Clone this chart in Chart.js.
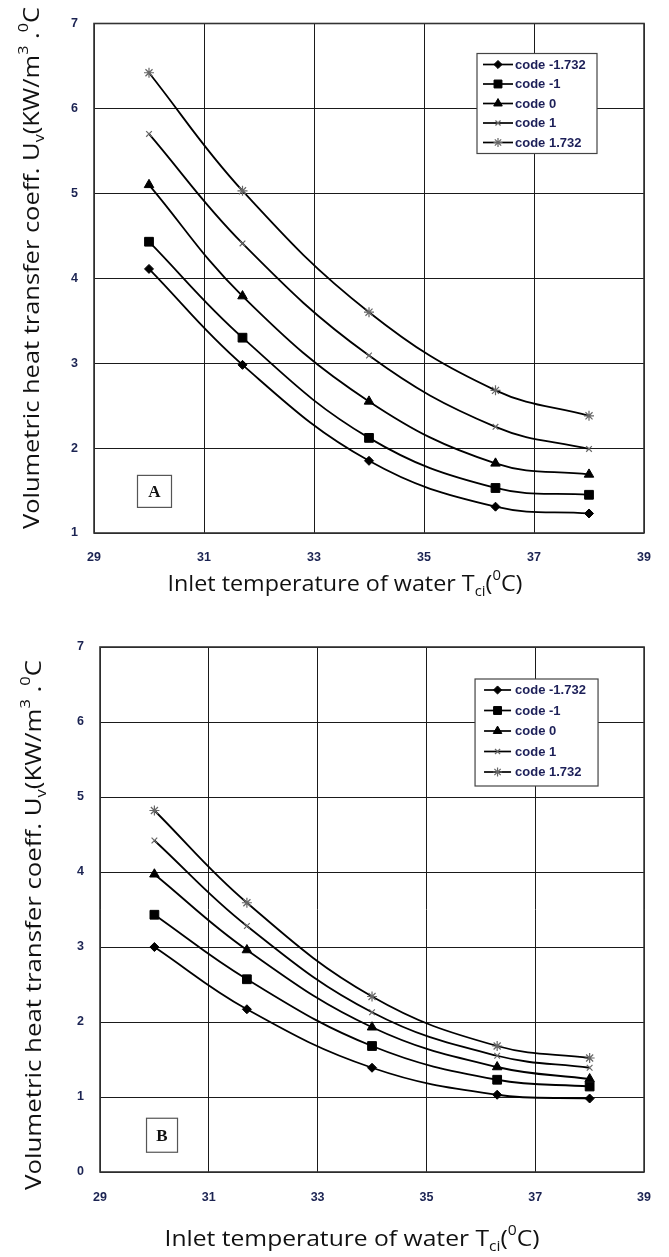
<!DOCTYPE html>
<html>
<head>
<meta charset="utf-8">
<script src="https://cdn.jsdelivr.net/npm/chart.js@4.4.0/dist/chart.umd.min.js"></script>
<style>
  html, body { margin: 0; padding: 0; background: #fff; }
  .panel { position: absolute; left: 0; width: 669px; }
  canvas { display: block; }
</style>
</head>
<body>
<div class="panel" style="top:0;height:615px"><canvas id="chartA" width="669" height="615"></canvas></div>
<div class="panel" style="top:615px;height:642px"><canvas id="chartB" width="669" height="642"></canvas></div>
<script>
// Inlet water temperature levels (°C) of the design
const inletTemp = [30, 31.7, 34, 36.3, 38];
const seriesNames = ['code -1.732', 'code -1', 'code 0', 'code 1', 'code 1.732'];

// Panel A: volumetric heat transfer coefficient Uv (kW/m3.°C)
const uvA_m1732 = [4.11, 2.98, 1.85, 1.31, 1.23];
const uvA_m1    = [4.43, 3.30, 2.12, 1.53, 1.45];
const uvA_0     = [5.10, 3.79, 2.55, 1.82, 1.69];
const uvA_p1    = [5.70, 4.41, 3.09, 2.25, 1.99];
const uvA_p1732 = [6.42, 5.03, 3.60, 2.68, 2.38];

// Panel B
const uvB_m1732 = [3.00, 2.17, 1.39, 1.03, 0.98];
const uvB_m1    = [3.43, 2.57, 1.68, 1.23, 1.14];
const uvB_0     = [3.97, 2.96, 1.93, 1.40, 1.24];
const uvB_p1    = [4.42, 3.28, 2.13, 1.55, 1.39];
const uvB_p1732 = [4.82, 3.59, 2.34, 1.68, 1.52];

// Axis ticks
const xTicks  = [29, 31, 33, 35, 37, 39];
const yTicksA = [1, 2, 3, 4, 5, 6, 7];
const yTicksB = [0, 1, 2, 3, 4, 5, 6, 7];

const markers = [
  { style: 'rectRot',  r: 4.5, fill: '#000', stroke: '#000', bw: 1 },
  { style: 'rect',     r: 6.2, fill: '#000', stroke: '#000', bw: 1 },
  { style: 'triangle', r: 5.5, fill: '#000', stroke: '#000', bw: 1 },
  { style: 'crossRot', r: 4,   fill: '#666', stroke: '#666', bw: 1.2 },
  { style: 'star',     r: 5,   fill: '#666', stroke: '#666', bw: 1.2 }
];

const tickColor = '#1b2352';
const legendColor = '#1c1f58';

function makeDatasets(seriesList) {
  return seriesList.map((vals, i) => ({
    label: seriesNames[i],
    data: inletTemp.map((t, k) => ({ x: t, y: vals[k] })),
    borderColor: '#000',
    borderWidth: 1.8,
    tension: 0.4,
    fill: false,
    pointStyle: markers[i].style,
    pointRadius: markers[i].r,
    pointBackgroundColor: markers[i].fill,
    pointBorderColor: markers[i].stroke,
    pointBorderWidth: markers[i].bw
  }));
}

// Draws a run of text pieces with sub/superscripts, centred on (cx, cy)
function drawRich(ctx, parts, cx, cy, size, family, targetLen, angle) {
  const small = Math.round(size * 0.62);
  let total = 0;
  const widths = parts.map(p => {
    ctx.font = (p.k ? small : size) + 'px ' + family;
    const w = ctx.measureText(p.t).width;
    total += w;
    return w;
  });
  const sx = targetLen ? targetLen / total : 1;
  ctx.save();
  ctx.translate(cx, cy);
  ctx.rotate(angle || 0);
  ctx.scale(sx, 1);
  ctx.fillStyle = '#111';
  ctx.textBaseline = 'alphabetic';
  ctx.textAlign = 'left';
  let x = -total / 2;
  const base = size * 0.36;
  parts.forEach((p, i) => {
    ctx.font = (p.k ? small : size) + 'px ' + family;
    let dy = base;
    if (p.k === 'sub') dy = base + size * 0.22;
    if (p.k === 'sup') dy = base - size * 0.48;
    ctx.fillText(p.t, x, dy);
    x += widths[i];
  });
  ctx.restore();
}

const yTitleParts = [
  { t: 'Volumetric heat transfer coeff. U' }, { t: 'v', k: 'sub' },
  { t: '(KW/m' }, { t: '3', k: 'sup' }, { t: ' .' }, { t: '0', k: 'sup' }, { t: 'C' }
];
const xTitleParts = [
  { t: 'Inlet temperature of water T' }, { t: 'ci', k: 'sub' },
  { t: '(' }, { t: '0', k: 'sup' }, { t: 'C)' }
];

const frameAndDecor = {
  id: 'frameAndDecor',
  afterDatasetsDraw(chart, args, o) {
    const ctx = chart.ctx;
    const ca = chart.chartArea;
    const xs = chart.scales.x, ys = chart.scales.y;

    // plot frame
    ctx.save();
    ctx.strokeStyle = '#333';
    ctx.lineWidth = 1.6;
    ctx.strokeRect(ca.left, ca.top, ca.right - ca.left, ca.bottom - ca.top);
    ctx.restore();

    // legend box
    const lg = o.legend;
    const bx = ca.right + lg.dx, by = ca.top + lg.dy;
    ctx.save();
    ctx.fillStyle = '#fff';
    ctx.fillRect(bx, by, lg.w, lg.h);
    ctx.strokeStyle = '#444';
    ctx.lineWidth = 1.2;
    ctx.strokeRect(bx, by, lg.w, lg.h);
    chart.data.datasets.forEach((ds, i) => {
      const ry = by + lg.first + i * lg.step;
      ctx.strokeStyle = '#000';
      ctx.lineWidth = 1.7;
      ctx.beginPath();
      ctx.moveTo(bx + lg.lineX0, ry);
      ctx.lineTo(bx + lg.lineX1, ry);
      ctx.stroke();
      ctx.fillStyle = ds.pointBackgroundColor;
      ctx.strokeStyle = ds.pointBorderColor;
      ctx.lineWidth = ds.pointBorderWidth;
      Chart.helpers.drawPoint(ctx, { pointStyle: ds.pointStyle, radius: ds.pointRadius * 0.9, rotation: 0, borderWidth: ds.pointBorderWidth },
        bx + (lg.lineX0 + lg.lineX1) / 2, ry);
      ctx.fillStyle = legendColor;
      ctx.font = lg.font;
      ctx.textBaseline = 'middle';
      ctx.textAlign = 'left';
      ctx.fillText(ds.label, bx + lg.textX, ry + 0.5);
    });
    ctx.restore();

    // panel letter in a small box, anchored on the data scales
    const pl = o.panel;
    const pcx = xs.getPixelForValue(pl.x), pcy = ys.getPixelForValue(pl.y);
    ctx.save();
    ctx.fillStyle = '#fff';
    ctx.fillRect(pcx - pl.w / 2, pcy - pl.h / 2, pl.w, pl.h);
    ctx.strokeStyle = '#555';
    ctx.lineWidth = 1.2;
    ctx.strokeRect(pcx - pl.w / 2, pcy - pl.h / 2, pl.w, pl.h);
    ctx.fillStyle = '#111';
    ctx.font = 'bold 17px "Liberation Serif", "DejaVu Serif", serif';
    ctx.textAlign = 'center';
    ctx.textBaseline = 'middle';
    ctx.fillText(pl.text, pcx, pcy + 1);
    ctx.restore();

    // axis titles
    const fam = '"Open Sans", "Liberation Sans", sans-serif';
    drawRich(ctx, xTitleParts, o.xTitle.x, o.xTitle.y, 22, fam, o.xTitle.len, 0);
    drawRich(ctx, yTitleParts, o.yTitle.x, o.yTitle.y, 22, fam, o.yTitle.len, -Math.PI / 2);
  }
};

function buildChart(id, seriesList, yTicks, geom, decor) {
  const tickFont = { family: '"Liberation Sans", Arial, sans-serif', size: 12.5, weight: 'bold' };
  return new Chart(document.getElementById(id), {
    type: 'line',
    data: { datasets: makeDatasets(seriesList) },
    options: {
      responsive: false,
      animation: false,
      devicePixelRatio: 1,
      layout: { padding: { top: geom.top, right: geom.right, left: 0, bottom: 0 } },
      plugins: {
        legend: { display: false },
        tooltip: { enabled: false },
        frameAndDecor: decor
      },
      scales: {
        x: {
          type: 'linear',
          min: xTicks[0],
          max: xTicks[xTicks.length - 1],
          afterBuildTicks: s => { s.ticks = xTicks.map(v => ({ value: v })); },
          afterFit: s => { s.height = geom.xAxisH; },
          ticks: { font: tickFont, color: tickColor, padding: geom.xPad, maxRotation: 0 },
          grid: { color: '#1a1a1a', lineWidth: 1, drawTicks: false },
          border: { display: false }
        },
        y: {
          type: 'linear',
          min: yTicks[0],
          max: yTicks[yTicks.length - 1],
          afterBuildTicks: s => { s.ticks = yTicks.map(v => ({ value: v })); },
          afterFit: s => { s.width = geom.left; },
          ticks: { font: tickFont, color: tickColor, padding: geom.yPad },
          grid: { color: '#1a1a1a', lineWidth: 1, drawTicks: false },
          border: { display: false }
        }
      }
    },
    plugins: [frameAndDecor]
  });
}

buildChart('chartA', [uvA_m1732, uvA_m1, uvA_0, uvA_p1, uvA_p1732], yTicksA,
  { top: 11, right: 25, left: 94, xAxisH: 82, xPad: 17, yPad: 16 },
  {
    legend: { dx: -167, dy: 30, w: 120, h: 100, first: 11, step: 19.5, lineX0: 6, lineX1: 36, textX: 38,
              font: 'bold 13px "Liberation Sans", Arial, sans-serif' },
    panel: { x: 30.1, y: 1.49, w: 34, h: 32, text: 'A' },
    xTitle: { x: 345, y: 583, len: 355 },
    yTitle: { x: 31, y: 268, len: 522 }
  });

buildChart('chartB', [uvB_m1732, uvB_m1, uvB_0, uvB_p1, uvB_p1732], yTicksB,
  { top: 32, right: 23, left: 100, xAxisH: 85, xPad: 18, yPad: 16 },
  {
    legend: { dx: -169, dy: 32, w: 123, h: 107, first: 11, step: 20.5, lineX0: 9, lineX1: 36, textX: 40,
              font: 'bold 13px "Liberation Sans", Arial, sans-serif' },
    panel: { x: 30.14, y: 0.49, w: 31, h: 34, text: 'B' },
    xTitle: { x: 352, y: 623, len: 375 },
    yTitle: { x: 33, y: 310, len: 530 }
  });
</script>
</body>
</html>
